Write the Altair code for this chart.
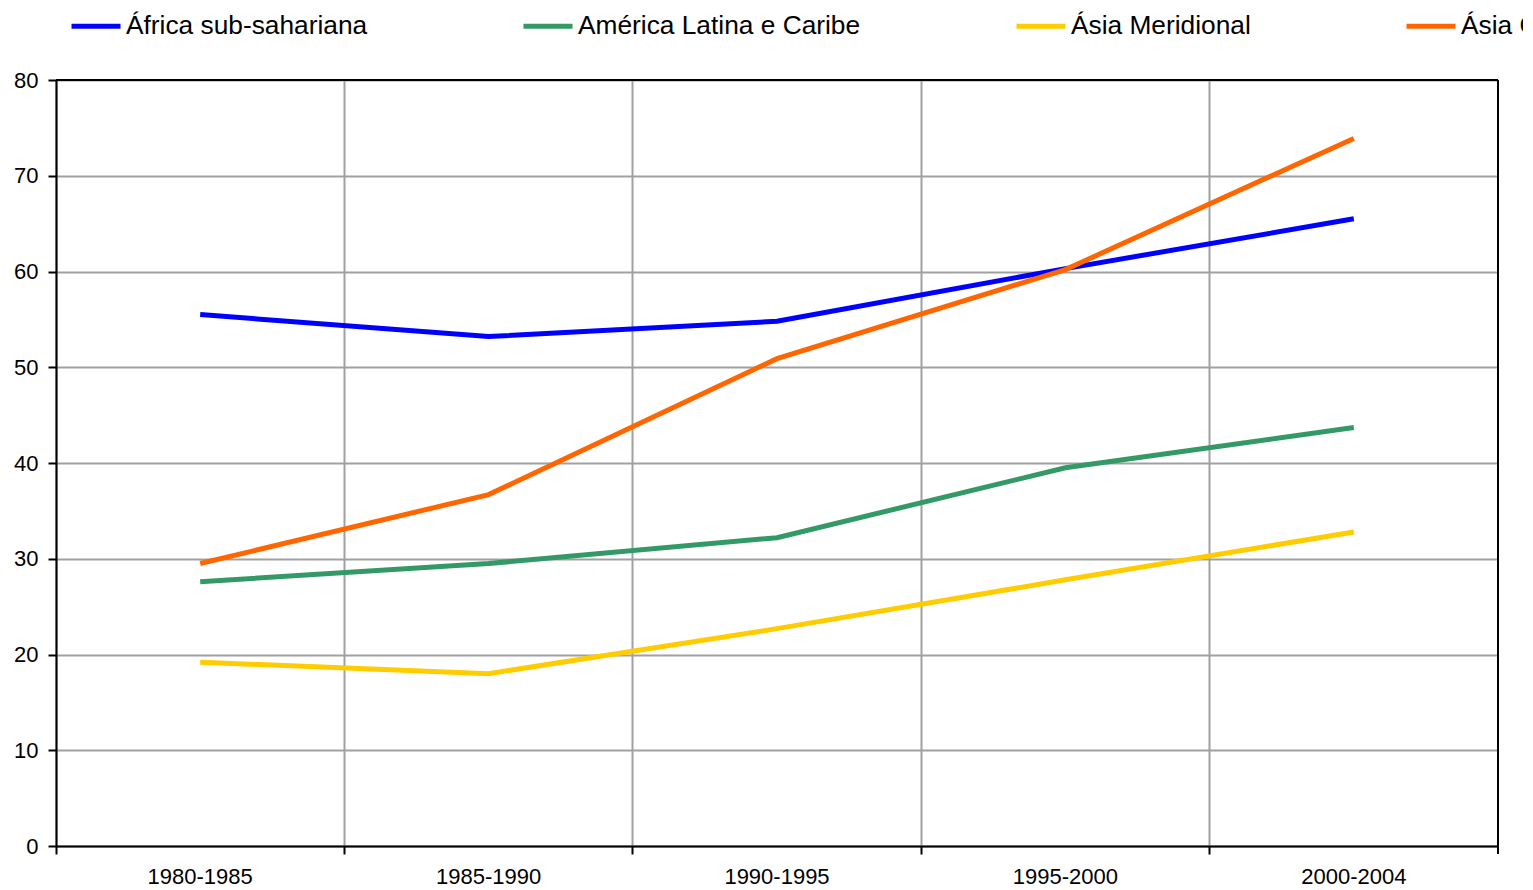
import altair as alt
import pandas as pd

periods = ["1980-1985", "1985-1990", "1990-1995", "1995-2000", "2000-2004"]
series = ["África sub-sahariana", "América Latina e Caribe", "Ásia Meridional", "Ásia Oriental e Pacífico"]
africa = [55.5, 53.2, 54.8, 60.3, 65.5]
america = [27.6, 29.5, 32.2, 39.5, 43.7]
asia_sul = [19.2, 18.0, 22.7, 27.8, 32.8]
asia_or = [29.5, 36.7, 50.9, 60.2, 73.9]
colors = ["#0000FF", "#339966", "#FFCC00", "#FF6600"]
y_ticks = [0, 10, 20, 30, 40, 50, 60, 70, 80]

rows = []
for name, vals in zip(series, [africa, america, asia_sul, asia_or]):
    for p, v in zip(periods, vals):
        rows.append({"periodo": p, "serie": name, "valor": v})
df = pd.DataFrame(rows)

W, H = 1442, 766
FONT = "Liberation Sans"

lines = alt.Chart(df).mark_line(strokeWidth=5, clip=False).encode(
    x=alt.X("periodo:N", sort=periods, bandPosition=0.5, title=None,
            scale=alt.Scale(type="band", paddingInner=0, paddingOuter=0),
            axis=alt.Axis(bandPosition=0, labelAngle=0, labelFontSize=22, labelFont=FONT,
                          labelColor="black", labelPadding=12, tickSize=8, tickWidth=2,
                          tickColor="black", domainColor="black", domainWidth=2,
                          grid=True, gridColor="#a0a0a0", gridWidth=2)),
    y=alt.Y("valor:Q", title=None,
            scale=alt.Scale(domain=[0, 80], nice=False),
            axis=alt.Axis(values=y_ticks, labelFontSize=22, labelFont=FONT, labelColor="black",
                          labelPadding=10, tickSize=8, tickWidth=2, tickColor="black",
                          domainColor="black", domainWidth=2, grid=True,
                          gridColor="#a0a0a0", gridWidth=2)),
    color=alt.Color("serie:N", sort=series,
                    scale=alt.Scale(domain=series, range=colors),
                    legend=alt.Legend(title=None, orient="none", legendX=13, legendY=-81,
                                      direction="horizontal", columns=4, columnPadding=145,
                                      symbolType="stroke", symbolSize=2401, symbolStrokeWidth=5,
                                      labelFontSize=26.3, labelFont=FONT, labelColor="black",
                                      labelOffset=3, labelLimit=0)),
)

frame = pd.DataFrame({"a": [0]})
top_edge = alt.Chart(frame).mark_rule(color="black", strokeWidth=2).encode(
    x=alt.value(0), x2=alt.value(W), y=alt.value(0)
)
right_edge = alt.Chart(frame).mark_rule(color="black", strokeWidth=2).encode(
    x=alt.value(W), y=alt.value(0), y2=alt.value(H + 8)
)

chart = alt.layer(lines, top_edge, right_edge).properties(
    width=W, height=H,
    autosize=alt.AutoSizeParams(type="none"),
    padding={"left": 48, "top": 72, "right": 25, "bottom": 44},
).configure_view(stroke="black", strokeWidth=2).configure(background="white")

chart.save("out.html", embed_options={"renderer": "svg", "actions": False})
